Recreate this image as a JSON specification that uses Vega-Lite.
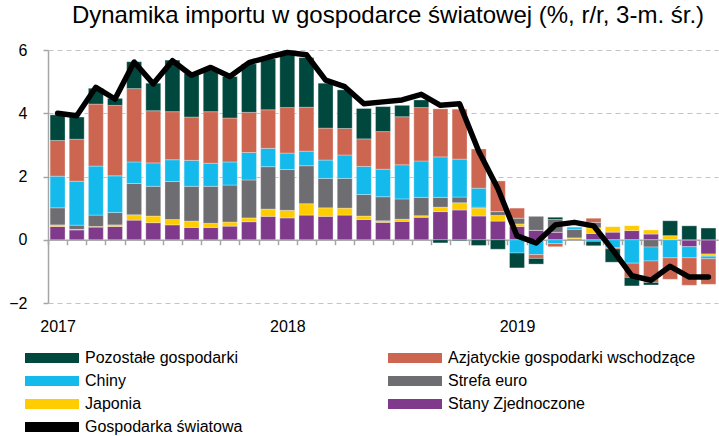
{
  "$schema": "https://vega.github.io/schema/vega-lite/v6.json",
  "width": 670,
  "height": 253,
  "autosize": "none",
  "padding": {"left": 48, "top": 50, "right": 1, "bottom": 133},
  "background": "white",
  "title": {
    "text": "Dynamika importu w gospodarce światowej (%, r/r, 3-m. śr.)",
    "fontSize": 24,
    "fontWeight": "normal",
    "color": "black",
    "anchor": "middle",
    "offset": 14,
    "dx": 5
  },
  "data": {
    "values": [
      {"m": "2017-01", "Stany Zjednoczone": 0.42, "Japonia": 0.05, "Strefa euro": 0.54, "Chiny": 1.0, "Azjatyckie gospodarki wschodzące": 1.13, "Pozostałe gospodarki": 0.81, "Gospodarka światowa": 4.0},
      {"m": "2017-02", "Stany Zjednoczone": 0.31, "Japonia": 0.02, "Strefa euro": 0.13, "Chiny": 1.39, "Azjatyckie gospodarki wschodzące": 1.33, "Pozostałe gospodarki": 0.7, "Gospodarka światowa": 3.92},
      {"m": "2017-03", "Stany Zjednoczone": 0.4, "Japonia": 0.02, "Strefa euro": 0.36, "Chiny": 1.55, "Azjatyckie gospodarki wschodzące": 1.96, "Pozostałe gospodarki": 0.5, "Gospodarka światowa": 4.82},
      {"m": "2017-04", "Stany Zjednoczone": 0.42, "Japonia": 0.05, "Strefa euro": 0.39, "Chiny": 1.16, "Azjatyckie gospodarki wschodzące": 2.23, "Pozostałe gospodarki": 0.22, "Gospodarka światowa": 4.45},
      {"m": "2017-05", "Stany Zjednoczone": 0.62, "Japonia": 0.17, "Strefa euro": 0.99, "Chiny": 0.68, "Azjatyckie gospodarki wschodzące": 2.32, "Pozostałe gospodarki": 0.85, "Gospodarka światowa": 5.62},
      {"m": "2017-06", "Stany Zjednoczone": 0.54, "Japonia": 0.21, "Strefa euro": 0.94, "Chiny": 0.74, "Azjatyckie gospodarki wschodzące": 1.65, "Pozostałe gospodarki": 0.87, "Gospodarka światowa": 4.93},
      {"m": "2017-07", "Stany Zjednoczone": 0.47, "Japonia": 0.17, "Strefa euro": 1.2, "Chiny": 0.69, "Azjatyckie gospodarki wschodzące": 1.52, "Pozostałe gospodarki": 1.63, "Gospodarka światowa": 5.66},
      {"m": "2017-08", "Stany Zjednoczone": 0.39, "Japonia": 0.2, "Strefa euro": 1.1, "Chiny": 0.82, "Azjatyckie gospodarki wschodzące": 1.37, "Pozostałe gospodarki": 1.38, "Gospodarka światowa": 5.2},
      {"m": "2017-09", "Stany Zjednoczone": 0.39, "Japonia": 0.13, "Strefa euro": 1.17, "Chiny": 0.73, "Azjatyckie gospodarki wschodzące": 1.63, "Pozostałe gospodarki": 1.32, "Gospodarka światowa": 5.45},
      {"m": "2017-10", "Stany Zjednoczone": 0.43, "Japonia": 0.13, "Strefa euro": 1.17, "Chiny": 0.73, "Azjatyckie gospodarki wschodzące": 1.39, "Pozostałe gospodarki": 1.31, "Gospodarka światowa": 5.16},
      {"m": "2017-11", "Stany Zjednoczone": 0.57, "Japonia": 0.12, "Strefa euro": 1.2, "Chiny": 0.87, "Azjatyckie gospodarki wschodzące": 1.27, "Pozostałe gospodarki": 1.53, "Gospodarka światowa": 5.6},
      {"m": "2017-12", "Stany Zjednoczone": 0.74, "Japonia": 0.23, "Strefa euro": 1.34, "Chiny": 0.58, "Azjatyckie gospodarki wschodzące": 1.22, "Pozostałe gospodarki": 1.61, "Gospodarka światowa": 5.77},
      {"m": "2018-01", "Stany Zjednoczone": 0.69, "Japonia": 0.24, "Strefa euro": 1.29, "Chiny": 0.52, "Azjatyckie gospodarki wschodzące": 1.44, "Pozostałe gospodarki": 1.67, "Gospodarka światowa": 5.92},
      {"m": "2018-02", "Stany Zjednoczone": 0.78, "Japonia": 0.36, "Strefa euro": 1.2, "Chiny": 0.46, "Azjatyckie gospodarki wschodzące": 1.39, "Pozostałe gospodarki": 1.57, "Gospodarka światowa": 5.85},
      {"m": "2018-03", "Stany Zjednoczone": 0.74, "Japonia": 0.27, "Strefa euro": 0.93, "Chiny": 0.58, "Azjatyckie gospodarki wschodzące": 1.01, "Pozostałe gospodarki": 1.42, "Gospodarka światowa": 5.05},
      {"m": "2018-04", "Stany Zjednoczone": 0.78, "Japonia": 0.22, "Strefa euro": 0.94, "Chiny": 0.74, "Azjatyckie gospodarki wschodzące": 0.84, "Pozostałe gospodarki": 1.22, "Gospodarka światowa": 4.84},
      {"m": "2018-05", "Stany Zjednoczone": 0.64, "Japonia": 0.11, "Strefa euro": 0.68, "Chiny": 0.89, "Azjatyckie gospodarki wschodzące": 0.87, "Pozostałe gospodarki": 0.96, "Gospodarka światowa": 4.3},
      {"m": "2018-06", "Stany Zjednoczone": 0.55, "Japonia": 0.05, "Strefa euro": 0.76, "Chiny": 0.87, "Azjatyckie gospodarki wschodzące": 1.19, "Pozostałe gospodarki": 0.79, "Gospodarka światowa": 4.36},
      {"m": "2018-07", "Stany Zjednoczone": 0.58, "Japonia": 0.07, "Strefa euro": 0.64, "Chiny": 1.08, "Azjatyckie gospodarki wschodzące": 1.52, "Pozostałe gospodarki": 0.36, "Gospodarka światowa": 4.42},
      {"m": "2018-08", "Stany Zjednoczone": 0.71, "Japonia": 0.05, "Strefa euro": 0.58, "Chiny": 1.15, "Azjatyckie gospodarki wschodzące": 1.69, "Pozostałe gospodarki": 0.24, "Gospodarka światowa": 4.6},
      {"m": "2018-09", "Stany Zjednoczone": 0.89, "Japonia": 0.14, "Strefa euro": 0.31, "Chiny": 1.28, "Azjatyckie gospodarki wschodzące": 1.52, "Pozostałe gospodarki": -0.1, "Gospodarka światowa": 4.25},
      {"m": "2018-10", "Stany Zjednoczone": 0.94, "Japonia": 0.23, "Strefa euro": 0.18, "Chiny": 1.2, "Azjatyckie gospodarki wschodzące": 1.58, "Pozostałe gospodarki": -0.03, "Gospodarka światowa": 4.3},
      {"m": "2018-11", "Stany Zjednoczone": 0.75, "Japonia": 0.25, "Strefa euro": 0.03, "Chiny": 0.6, "Azjatyckie gospodarki wschodzące": 1.24, "Pozostałe gospodarki": -0.18, "Gospodarka światowa": 2.8},
      {"m": "2018-12", "Stany Zjednoczone": 0.59, "Japonia": 0.18, "Strefa euro": 0.12, "Chiny": 0.0, "Azjatyckie gospodarki wschodzące": 0.97, "Pozostałe gospodarki": -0.3, "Gospodarka światowa": 1.62},
      {"m": "2019-01", "Stany Zjednoczone": 0.42, "Japonia": 0.08, "Strefa euro": 0.18, "Chiny": -0.42, "Azjatyckie gospodarki wschodzące": 0.32, "Pozostałe gospodarki": -0.47, "Gospodarka światowa": 0.12},
      {"m": "2019-02", "Stany Zjednoczone": 0.3, "Japonia": 0.0, "Strefa euro": 0.44, "Chiny": -0.47, "Azjatyckie gospodarki wschodzące": -0.12, "Pozostałe gospodarki": -0.18, "Gospodarka światowa": -0.1},
      {"m": "2019-03", "Stany Zjednoczone": 0.24, "Japonia": 0.0, "Strefa euro": 0.4, "Chiny": -0.12, "Azjatyckie gospodarki wschodzące": -0.1, "Pozostałe gospodarki": 0.07, "Gospodarka światowa": 0.47},
      {"m": "2019-04", "Stany Zjednoczone": 0.03, "Japonia": 0.03, "Strefa euro": 0.27, "Chiny": 0.08, "Azjatyckie gospodarki wschodzące": 0.0, "Pozostałe gospodarki": 0.0, "Gospodarka światowa": 0.55},
      {"m": "2019-05", "Stany Zjednoczone": 0.2, "Japonia": 0.18, "Strefa euro": 0.17, "Chiny": -0.05, "Azjatyckie gospodarki wschodzące": 0.13, "Pozostałe gospodarki": -0.14, "Gospodarka światowa": 0.44},
      {"m": "2019-06", "Stany Zjednoczone": 0.24, "Japonia": 0.18, "Strefa euro": 0.0, "Chiny": -0.25, "Azjatyckie gospodarki wschodzące": -0.04, "Pozostałe gospodarki": -0.42, "Gospodarka światowa": -0.32},
      {"m": "2019-07", "Stany Zjednoczone": 0.29, "Japonia": 0.16, "Strefa euro": 0.0, "Chiny": -0.74, "Azjatyckie gospodarki wschodzące": -0.45, "Pozostałe gospodarki": -0.27, "Gospodarka światowa": -1.14},
      {"m": "2019-08", "Stany Zjednoczone": 0.18, "Japonia": 0.13, "Strefa euro": -0.23, "Chiny": -0.44, "Azjatyckie gospodarki wschodzące": -0.68, "Pozostałe gospodarki": -0.08, "Gospodarka światowa": -1.28},
      {"m": "2019-09", "Stany Zjednoczone": 0.0, "Japonia": 0.13, "Strefa euro": 0.0, "Chiny": -0.57, "Azjatyckie gospodarki wschodzące": -0.68, "Pozostałe gospodarki": 0.47, "Gospodarka światowa": -0.84},
      {"m": "2019-10", "Stany Zjednoczone": -0.22, "Japonia": 0.0, "Strefa euro": 0.0, "Chiny": -0.35, "Azjatyckie gospodarki wschodzące": -0.87, "Pozostałe gospodarki": 0.44, "Gospodarka światowa": -1.18},
      {"m": "2019-11", "Stany Zjednoczone": -0.45, "Japonia": -0.07, "Strefa euro": 0.0, "Chiny": -0.08, "Azjatyckie gospodarki wschodzące": -0.81, "Pozostałe gospodarki": 0.37, "Gospodarka światowa": -1.18}
    ]
  },
  "encoding": {
    "x": {
      "field": "m",
      "type": "ordinal",
      "scale": {"paddingInner": 0.22, "paddingOuter": 0.11},
      "axis": {
        "orient": "bottom",
        "offset": -63.25,
        "title": null,
        "domainColor": "#a6a6a6",
        "domainWidth": 1.5,
        "tickColor": "#a6a6a6",
        "tickSize": 5,
        "tickWidth": 1.5,
        "tickOffset": -9.57,
        "labelOffset": 9.57,
        "labelPadding": 74,
        "labelAngle": 0,
        "labelOverlap": false,
        "labelFlush": false,
        "labelFontSize": 16,
        "labelColor": "black",
        "labelExpr": "substring(datum.value, 5, 7) == '01' ? substring(datum.value, 0, 4) : ''",
        "grid": false
      }
    }
  },
  "layer": [
    {
      "transform": [
        {"fold": ["Stany Zjednoczone", "Japonia", "Strefa euro", "Chiny", "Azjatyckie gospodarki wschodzące", "Pozostałe gospodarki"], "as": ["k", "v"]},
        {"calculate": "indexof(['Stany Zjednoczone', 'Japonia', 'Strefa euro', 'Chiny', 'Azjatyckie gospodarki wschodzące', 'Pozostałe gospodarki'], datum.k)", "as": "ord"}
      ],
      "mark": {"type": "bar", "stroke": "#ffffff", "strokeWidth": 0.5, "strokeOpacity": 0.6},
      "encoding": {
        "y": {
          "field": "v",
          "type": "quantitative",
          "stack": "zero",
          "scale": {"domain": [-2, 6], "nice": false, "zero": false},
          "axis": {
            "title": null,
            "values": [-2, 0, 2, 4, 6],
            "grid": true,
            "gridColor": "#c4c4c4",
            "gridDash": [5, 4],
            "gridWidth": 1.2,
            "domainColor": "#a6a6a6",
            "domainWidth": 1.5,
            "tickColor": "#a6a6a6",
            "tickSize": 5,
            "tickWidth": 1.5,
            "labelPadding": 16,
            "labelFontSize": 16,
            "labelColor": "black"
          }
        },
        "order": {"field": "ord", "type": "quantitative"},
        "color": {
          "field": "k",
          "type": "nominal",
          "scale": {
            "domain": ["Pozostałe gospodarki", "Chiny", "Japonia", "Gospodarka światowa", "Azjatyckie gospodarki wschodzące", "Strefa euro", "Stany Zjednoczone"],
            "range": ["#00473E", "#14BAEC", "#FFCC00", "#000000", "#CD6651", "#6D6D72", "#7F3A8C"]
          },
          "legend": {
            "orient": "none",
            "legendX": -26,
            "legendY": 300,
            "columns": 2,
            "title": null,
            "labelFontSize": 16,
            "labelColor": "black",
            "labelLimit": 400,
            "symbolType": "M-1,-1H9.8V1H-1Z",
            "symbolSize": 100,
            "symbolStrokeWidth": 0,
            "labelOffset": 47,
            "rowPadding": 7,
            "columnPadding": 142,
            "encode": {
              "symbols": {
                "update": {
                  "shape": {"signal": "datum.value === 'Gospodarka światowa' ? 'M-0.35,-0.65H9.15A0.65,0.65 0 0 1 9.15,0.65H-0.35A0.65,0.65 0 0 1 -0.35,-0.65Z' : 'M-1,-1H9.8V1H-1Z'"},
                  "fill": {"scale": "color", "field": "value"},
                  "strokeWidth": {"value": 0},
                  "opacity": {"value": 1}
                }
              }
            }
          }
        }
      }
    },
    {
      "mark": {"type": "line", "strokeWidth": 5.5, "strokeCap": "round", "strokeJoin": "round"},
      "encoding": {
        "y": {"field": "Gospodarka światowa", "type": "quantitative"},
        "color": {"datum": "Gospodarka światowa"}
      }
    }
  ],
  "config": {
    "font": "Liberation Sans Narrow, Arial Narrow, Liberation Sans, Arial, sans-serif",
    "view": {"stroke": null}
  }
}
